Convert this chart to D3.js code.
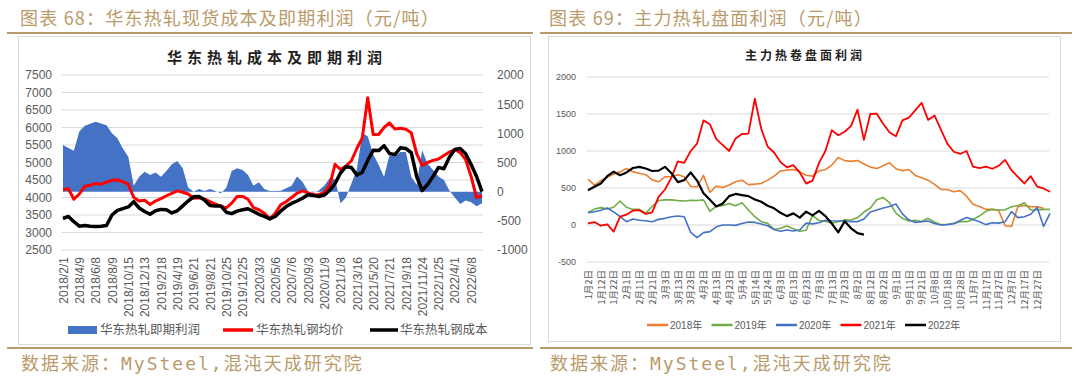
<!DOCTYPE html>
<html>
<head>
<meta charset="utf-8">
<script src="https://cdn.jsdelivr.net/npm/d3@7"></script>
<style>
  body { margin: 0; background: #fff; }
  text { font-family: "Liberation Sans", "Noto Sans CJK SC", sans-serif; }
</style>
</head>
<body>
<svg id="chart" width="1080" height="377"></svg>
<script>
// ---- left chart: East China hot-rolled spot cost & profit ----
const spotDates = ['2018/2/1', '2018/4/9', '2018/6/8', '2018/8/9', '2018/10/15', '2018/12/13',
    '2019/2/18', '2019/4/19', '2019/6/21', '2019/8/21', '2019/10/25', '2019/12/25',
    '2020/3/3', '2020/5/6', '2020/7/6', '2020/9/3', '2020/11/9', '2021/1/8', '2021/3/16',
    '2021/5/20', '2021/7/21', '2021/9/18', '2021/11/24', '2022/1/25', '2022/4/1', '2022/6/8'];

// sampled 3 points per date label
const spotProfit = [800, 750, 700, 1030, 1130, 1165, 1200, 1170, 1140, 1000,
    915, 740, 600, 100, 257, 343, 285, 330, 257, 354,
    468, 525, 400, 70, 0, 46, 11, 46, 11, -28,
    68, 354, 400, 371, 285, 103, 160, 46, 11, 10,
    15, 60, 100, 260, 170, 10, -20, 20, 100, 230,
    210, -200, -100, 140, 380, 1000, 950, 640, 460, 250,
    630, 600, 680, 680, 250, 120, 710, 480, 370, 260,
    200, 20, -100, -210, -150, -180, -250, -200];

const spotPrice = [4220, 4250, 3950, 4100, 4320, 4350, 4400, 4380, 4440, 4490,
    4500, 4450, 4380, 4000, 3900, 3920, 3800, 3900, 3970, 4050,
    4120, 4190, 4150, 4100, 3980, 3990, 3960, 3880, 3810, 3750,
    3700, 3840, 4030, 4030, 3950, 3710, 3650, 3550, 3390, 3550,
    3790, 3880, 4000, 4120, 4190, 4130, 4080, 4080, 4140, 4340,
    4950, 4800, 4900, 5050, 5400, 5700, 6850, 5800, 5800, 6000,
    6130, 5960, 5980, 5950, 5850, 5250, 4920, 5000, 5060, 5100,
    5200, 5300, 5370, 5280, 5080, 4600, 4000, 4050];

const spotCost = [3400, 3460, 3310, 3180, 3200, 3180, 3170, 3180, 3200, 3500,
    3630, 3680, 3730, 3880, 3700, 3600, 3520, 3620, 3660, 3650,
    3560, 3620, 3760, 3900, 4020, 4030, 3930, 3770, 3760, 3760,
    3580, 3540, 3610, 3650, 3680, 3600, 3520, 3460, 3390, 3460,
    3610, 3740, 3830, 3900, 3980, 4080, 4060, 4030, 4070, 4200,
    4400, 4700, 4880, 4860, 4640, 4720, 5060, 5350, 5340, 5480,
    5260, 5220, 5420, 5400, 5280, 4600, 4200, 4370, 4600, 4860,
    4820, 5150, 5370, 5400, 5250, 4940, 4600, 4170];

const priceTicks = [2500, 3000, 3500, 4000, 4500, 5000, 5500, 6000, 6500, 7000, 7500];
const profitTicks = [-1000, -500, 0, 500, 1000, 1500, 2000];

// ---- right chart: futures profit by year ----
const dayLabels = ['1月2日', '1月12日', '1月22日', '2月1日', '2月11日', '2月21日', '3月3日', '3月13日',
    '3月23日', '4月2日', '4月13日', '4月23日', '5月4日', '5月14日', '5月24日', '6月3日', '6月13日',
    '6月23日', '7月3日', '7月13日', '7月23日', '8月2日', '8月12日', '8月22日', '9月1日', '9月11日',
    '9月21日', '10月8日', '10月18日', '10月28日', '11月7日', '11月17日', '11月27日', '12月7日',
    '12月17日', '12月27日'];

// sampled 2 points per date label
const profit2018 = [620, 540, 600, 645, 690, 718, 763, 718, 700, 680,
    610, 584, 651, 655, 680, 651, 520, 516, 670, 440,
    525, 507, 540, 584, 606, 545, 552, 561, 606, 660,
    730, 741, 750, 718, 673, 660, 730, 750, 810, 911,
    870, 860, 872, 825, 782, 763, 800, 840, 760, 735,
    750, 670, 640, 606, 550, 480, 480, 450, 465, 390,
    280, 250, 211, 211, 195, -10, -20, 250, 265, 247,
    247, 225];

const profit2019 = [170, 215, 235, 215, 240, 325, 240, 211, 211, 160,
    250, 330, 340, 340, 330, 325, 335, 330, 340, 185,
    256, 262, 292, 260, 300, 202, 112, 45, 22, -60,
    -45, -15, -50, -85, -70, 130, 60, 50, 25, 45,
    70, 67, 100, 175, 230, 340, 373, 300, 160, 90,
    55, 62, 48, 90, 40, 5, 10, 22, 45, 45,
    76, 121, 185, 211, 202, 205, 247, 260, 300, 202,
    205, 211, 211];

const profit2020 = [166, 178, 200, 230, 178, 112, 45, 80, 65, 58,
    45, 76, 90, 112, 121, 112, -100, -170, -103, -90,
    -25, 0, 0, -5, 20, 40, 35, 13, -10, -60,
    -85, -67, -80, -67, 25, 15, 31, 65, 58, 55,
    55, 45, 45, 80, 175, 202, 230, 250, 283, 150,
    70, 35, 45, 55, 20, 0, 5, 18, 60, 100,
    75, 45, 5, 30, 25, 45, 180, 100, 112, 145,
    240, -20, 157];

const profit2021 = [22, 40, -10, 10, -90, 112, 140, 195, 200, 150,
    170, 380, 480, 640, 860, 840, 1000, 1100, 1414, 1360,
    1160, 1080, 1000, 1170, 1230, 1235, 1706, 1300, 1060, 980,
    850, 780, 808, 710, 560, 600, 840, 1000, 1280, 1212,
    1260, 1340, 1560, 1150, 1500, 1504, 1369, 1250, 1200, 1414,
    1450, 1549, 1650, 1420, 1480, 1290, 1100, 990, 960, 1000,
    790, 770, 790, 760, 800, 880, 741, 650, 561, 660,
    520, 494, 450];

const profit2022 = [470, 516, 561, 660, 720, 673, 710, 770, 786, 763,
    730, 735, 786, 700, 580, 606, 710, 600, 430, 340,
    250, 290, 390, 420, 404, 390, 345, 314, 260, 225,
    165, 120, 157, 100, 180, 130, 190, 120, 20, -100,
    50, -45, -110, -130];

const yearNames = ['2018年', '2019年', '2020年', '2021年', '2022年'];
const yearColors = ['#ED7D31', '#70AD47', '#4472C4', '#FF0000', '#000000'];
const yearWidths = [1.6, 1.6, 1.6, 1.8, 2.2];
const yearTicks = [-500, 0, 500, 1000, 1500, 2000];

const gold = '#b99a6b';
const svg = d3.select('#chart');
svg.append('rect').attr('width', 1080).attr('height', 377).attr('fill', '#fff');

// ---- page frame ----
const headers = [
    { x: 20, text: '图表 68：华东热轧现货成本及即期利润（元/吨）', line: [7, 533] },
    { x: 549, text: '图表 69：主力热轧盘面利润（元/吨）', line: [540, 1072] }
];
headers.forEach(h => {
    svg.append('text').attr('x', h.x).attr('y', 25)
        .style('font-family', '"Noto Sans CJK SC"').style('font-size', '18px')
        .style('letter-spacing', '1.2px').attr('fill', gold).text(h.text);
    svg.append('line').attr('x1', h.line[0]).attr('x2', h.line[1]).attr('y1', 33).attr('y2', 33)
        .attr('stroke', gold).attr('stroke-width', 2);
    svg.append('line').attr('x1', h.line[0]).attr('x2', h.line[1]).attr('y1', 348).attr('y2', 348)
        .attr('stroke', gold).attr('stroke-width', 2);
    svg.append('text').attr('x', h.x + 1).attr('y', 370)
        .style('font-family', '"DejaVu Sans Mono", "Noto Sans CJK SC"').style('font-size', '18px')
        .style('letter-spacing', '2px').attr('fill', gold).text('数据来源：MySteel,混沌天成研究院');
});

svg.append('rect').attr('x', 18.5).attr('y', 36.5).attr('width', 512).attr('height', 308)
    .attr('fill', 'none').attr('stroke', '#d9d9d9');
svg.append('rect').attr('x', 548.5).attr('y', 36.5).attr('width', 512).attr('height', 305)
    .attr('fill', 'none').attr('stroke', '#d9d9d9');

// ================= left chart =================
const xL = d3.scaleLinear().domain([0, spotPrice.length - 1]).range([63, 482]);
const yPrice = d3.scaleLinear().domain([2500, 7500]).range([250, 75]);
const yProfit = d3.scaleLinear().domain([-1000, 2000]).range([250, 75]);

const left = svg.append('g');

left.append('text').attr('x', 277).attr('y', 63).attr('text-anchor', 'middle')
    .style('font-family', '"Noto Sans CJK SC"').style('font-weight', 'bold')
    .style('font-size', '15px').style('letter-spacing', '5px').attr('fill', '#222')
    .text('华东热轧成本及即期利润');

left.append('g').selectAll('line').data(priceTicks).join('line')
    .attr('x1', 62).attr('x2', 483)
    .attr('y1', d => yPrice(d)).attr('y2', d => yPrice(d))
    .attr('stroke', '#d9d9d9').attr('stroke-width', 1);

const axL = left.append('g').attr('transform', 'translate(62,0)')
    .call(d3.axisLeft(yPrice).tickValues(priceTicks).tickSize(0).tickPadding(10).tickFormat(d => String(d)));
axL.select('.domain').remove();
axL.selectAll('text').style('font-size', '12px').attr('fill', '#595959');

const axR = left.append('g').attr('transform', 'translate(483,0)')
    .call(d3.axisRight(yProfit).tickValues(profitTicks).tickSize(0).tickPadding(14).tickFormat(d => String(d)));
axR.select('.domain').remove();
axR.selectAll('text').style('font-size', '12px').attr('fill', '#595959');

const axB = left.append('g').attr('transform', 'translate(0,250)')
    .call(d3.axisBottom(xL).tickValues(spotDates.map((d, i) => i * 3)).tickSize(0)
        .tickFormat(i => spotDates[i / 3]));
axB.select('.domain').remove();
axB.selectAll('text')
    .attr('transform', 'rotate(-90)').attr('text-anchor', 'end')
    .attr('x', -7).attr('y', 0).attr('dy', '0.35em')
    .style('font-size', '12px').attr('fill', '#595959');

left.append('path').datum(spotProfit)
    .attr('d', d3.area().x((d, i) => xL(i)).y0(yProfit(0)).y1(d => yProfit(d)))
    .attr('fill', '#4472C4');

left.append('path').datum(spotPrice)
    .attr('d', d3.line().x((d, i) => xL(i)).y(d => yPrice(d)))
    .attr('fill', 'none').attr('stroke', '#FF0000').attr('stroke-width', 3)
    .attr('stroke-linejoin', 'round');

left.append('path').datum(spotCost)
    .attr('d', d3.line().x((d, i) => xL(i)).y(d => yPrice(d)))
    .attr('fill', 'none').attr('stroke', '#000').attr('stroke-width', 3.5)
    .attr('stroke-linejoin', 'round');

// legend
const legL = left.append('g').style('font-family', '"Noto Sans CJK SC"').style('font-size', '12.5px');
legL.append('rect').attr('x', 68).attr('y', 326).attr('width', 29).attr('height', 8).attr('fill', '#4472C4');
legL.append('text').attr('x', 100).attr('y', 334).attr('fill', '#595959').text('华东热轧即期利润');
legL.append('line').attr('x1', 223).attr('x2', 253).attr('y1', 330).attr('y2', 330)
    .attr('stroke', '#FF0000').attr('stroke-width', 3.5);
legL.append('text').attr('x', 256).attr('y', 334).attr('fill', '#595959').text('华东热轧钢均价');
legL.append('line').attr('x1', 370).attr('x2', 398).attr('y1', 330).attr('y2', 330)
    .attr('stroke', '#000').attr('stroke-width', 3.5);
legL.append('text').attr('x', 400).attr('y', 334).attr('fill', '#595959').text('华东热轧钢成本');

// ================= right chart =================
const xR = d3.scaleLinear().domain([0, 72]).range([588, 1050]);
const yR = d3.scaleLinear().domain([-500, 2000]).range([262, 77]);

const right = svg.append('g');

right.append('text').attr('x', 805).attr('y', 60).attr('text-anchor', 'middle')
    .style('font-family', '"Noto Sans CJK SC"').style('font-weight', 'bold')
    .style('font-size', '12px').style('letter-spacing', '3px').attr('fill', '#222')
    .text('主力热卷盘面利润');

right.append('g').selectAll('line').data(yearTicks).join('line')
    .attr('x1', 587).attr('x2', 1049)
    .attr('y1', d => yR(d)).attr('y2', d => yR(d))
    .attr('stroke', '#d9d9d9').attr('stroke-width', 1);

const axRL = right.append('g').attr('transform', 'translate(587,0)')
    .call(d3.axisLeft(yR).tickValues(yearTicks).tickSize(0).tickPadding(11).tickFormat(d => String(d)));
axRL.select('.domain').remove();
axRL.selectAll('text').style('font-size', '9px').attr('fill', '#595959');

const axRB = right.append('g').attr('transform', 'translate(0,262)')
    .call(d3.axisBottom(xR).tickValues(dayLabels.map((d, i) => i * 2)).tickSize(0)
        .tickFormat(i => dayLabels[i / 2]));
axRB.select('.domain').remove();
axRB.selectAll('text')
    .attr('transform', 'rotate(-90)').attr('text-anchor', 'end')
    .attr('x', -8).attr('y', 0).attr('dy', '0.35em')
    .style('font-family', '"Noto Sans CJK SC"').style('font-size', '9.5px').attr('fill', '#595959');

const yearSeries = [profit2018, profit2019, profit2020, profit2021, profit2022];
const lineR = d3.line().x((d, i) => xR(i)).y(d => yR(d));
yearSeries.forEach((s, k) => {
    right.append('path').datum(s).attr('d', lineR)
        .attr('fill', 'none').attr('stroke', yearColors[k]).attr('stroke-width', yearWidths[k])
        .attr('stroke-linejoin', 'round');
});

const legR = right.append('g').style('font-size', '10px');
yearNames.forEach((n, k) => {
    const lx = 647 + k * 64.5;
    legR.append('line').attr('x1', lx).attr('x2', lx + 21).attr('y1', 325).attr('y2', 325)
        .attr('stroke', yearColors[k]).attr('stroke-width', 2.5);
    legR.append('text').attr('x', lx + 23).attr('y', 329).attr('fill', '#595959')
        .style('font-family', '"Liberation Sans", "Noto Sans CJK SC"').text(n);
});
</script>
</body>
</html>
